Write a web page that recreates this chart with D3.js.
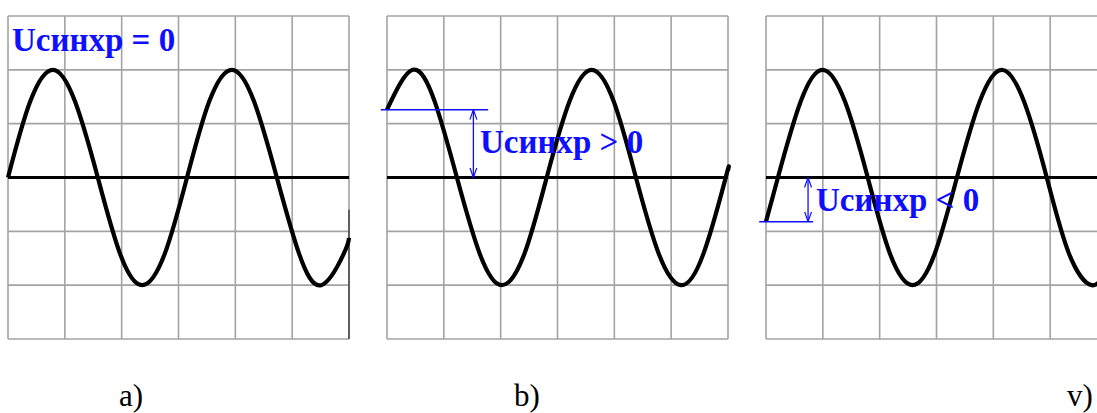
<!DOCTYPE html>
<html>
<head>
<meta charset="utf-8">
<script src="https://cdn.jsdelivr.net/npm/d3@7"></script>
<style>
  html, body { margin: 0; padding: 0; background: #fff; }
  svg { display: block; }
</style>
</head>
<body>
<svg id="chart" width="1097" height="413"></svg>
<script>
// Three oscilloscope screens: the same sine signal, swept with a different sync level.
const panelTitles = ["a)", "b)", "v)"];
const syncLabels = ["Uсинхр = 0", "Uсинхр > 0", "Uсинхр < 0"];
// Sync level in screen divisions (vertical), per panel
const syncLevels = [0, 1.26, -0.82];

// Trace samples per panel: x in horizontal divisions (0..6), y in vertical divisions (-3..3)
const traceX_a = [0, 0.39, 0.79, 1.18, 1.58, 1.97, 2.36, 2.76, 3.15, 3.54, 3.94, 4.33, 4.73, 5.12, 5.51, 5.91, 6.0];
const traceY_a = [0, 1.41, 2, 1.41, 0, -1.41, -2, -1.41, 0, 1.41, 2, 1.41, 0, -1.41, -2, -1.41, -1.12];
const traceX_b = [0, 0.45, 0.84, 1.23, 1.63, 2.02, 2.42, 2.81, 3.21, 3.60, 3.99, 4.38, 4.78, 5.17, 5.57, 5.96, 6.0];
const traceY_b = [1.26, 2, 1.41, 0, -1.41, -2, -1.41, 0, 1.41, 2, 1.41, 0, -1.41, -2, -1.41, 0, 0.13];
const traceX_c = [0, 0.21, 0.61, 1.0, 1.39, 1.79, 2.18, 2.58, 2.97, 3.36, 3.76, 4.15, 4.54, 4.94, 5.33, 5.73, 6.0];
const traceY_c = [-0.82, 0, 1.41, 2, 1.41, 0, -1.41, -2, -1.41, 0, 1.41, 2, 1.41, 0, -1.41, -2, -1.71];

// Grid divisions
const xDivisions = [0, 1, 2, 3, 4, 5, 6];
const yDivisions = [-3, -2, -1, 0, 1, 2, 3];

const traces = [
  d3.zip(traceX_a, traceY_a),
  d3.zip(traceX_b, traceY_b),
  d3.zip(traceX_c, traceY_c)
];

const svg = d3.select("#chart");
const screenLefts = [8, 387, 766];
const screenWidth = 341, screenTop = 16, screenHeight = 323;
const blue = "#0f0fff";

// arrowhead markers for the sync-level dimension arrows
const defs = svg.append("defs");
["start", "end"].forEach(k => {
  defs.append("marker")
    .attr("id", "arrow-" + k)
    .attr("viewBox", "0 0 10 10")
    .attr("refX", 10).attr("refY", 5)
    .attr("markerWidth", 10).attr("markerHeight", 10)
    .attr("markerUnits", "userSpaceOnUse")
    .attr("orient", k === "start" ? "auto-start-reverse" : "auto")
    .append("path")
    .attr("d", "M0,1.5 L10,5 L0,8.5")
    .attr("fill", "none")
    .attr("stroke", blue)
    .attr("stroke-width", 1.2);
});

const labelPos = [
  { x: 12, y: 51, lineFrom: null },
  { x: 480, y: 153, lineFrom: -0.11, lineTo: 1.78, arrowAt: 1.52 },
  { x: 816, y: 211, lineFrom: -0.12, lineTo: 0.83, arrowAt: 0.74 }
];
const titleX = [119, 514, 1067];

screenLefts.forEach((left, i) => {
  const x = d3.scaleLinear().domain([0, 6]).range([left, left + screenWidth]);
  const y = d3.scaleLinear().domain([-3, 3]).range([screenTop + screenHeight, screenTop]);
  const g = svg.append("g");

  // grid
  g.append("g").selectAll("line").data(xDivisions).join("line")
    .attr("x1", d => x(d)).attr("x2", d => x(d))
    .attr("y1", y(3)).attr("y2", y(-3))
    .attr("stroke", "#a3a3a3").attr("stroke-width", 1.6);
  g.append("g").selectAll("line").data(yDivisions.filter(d => d !== 0)).join("line")
    .attr("x1", x(0)).attr("x2", x(6))
    .attr("y1", d => y(d)).attr("y2", d => y(d))
    .attr("stroke", "#a3a3a3").attr("stroke-width", 1.6);

  if (i === 0) {
    // darker stretch of the right border on the first screen
    g.append("line")
      .attr("x1", x(6)).attr("x2", x(6))
      .attr("y1", y(-0.6)).attr("y2", y(-3))
      .attr("stroke", "#555").attr("stroke-width", 1.8);
  }

  // zero line
  g.append("line")
    .attr("x1", x(0)).attr("x2", x(6))
    .attr("y1", y(0)).attr("y2", y(0))
    .attr("stroke", "#000").attr("stroke-width", 3);

  // trace
  const line = d3.line().x(d => x(d[0])).y(d => y(d[1])).curve(d3.curveNatural);
  g.append("path")
    .datum(traces[i])
    .attr("d", line)
    .attr("fill", "none")
    .attr("stroke", "#000")
    .attr("stroke-width", 4.2)
    .attr("stroke-linejoin", "round");

  // sync level marker and dimension arrow
  const lp = labelPos[i];
  if (syncLevels[i] !== 0) {
    g.append("line")
      .attr("x1", x(lp.lineFrom)).attr("x2", x(lp.lineTo))
      .attr("y1", y(syncLevels[i])).attr("y2", y(syncLevels[i]))
      .attr("stroke", blue).attr("stroke-width", 1.5);
    g.append("line")
      .attr("x1", x(lp.arrowAt)).attr("x2", x(lp.arrowAt))
      .attr("y1", y(syncLevels[i])).attr("y2", y(0))
      .attr("stroke", blue).attr("stroke-width", 1.3)
      .attr("marker-start", "url(#arrow-start)")
      .attr("marker-end", "url(#arrow-end)");
  }

  g.append("text")
    .attr("x", lp.x).attr("y", lp.y)
    .attr("font-family", "'Liberation Serif', 'Times New Roman', serif")
    .attr("font-weight", "bold")
    .attr("font-size", 33)
    .attr("fill", blue)
    .text(syncLabels[i]);

  svg.append("text")
    .attr("x", titleX[i]).attr("y", 406)
    .attr("font-family", "'Liberation Serif', 'Times New Roman', serif")
    .attr("font-size", 31)
    .attr("fill", "#000")
    .text(panelTitles[i]);
});
</script>
</body>
</html>
